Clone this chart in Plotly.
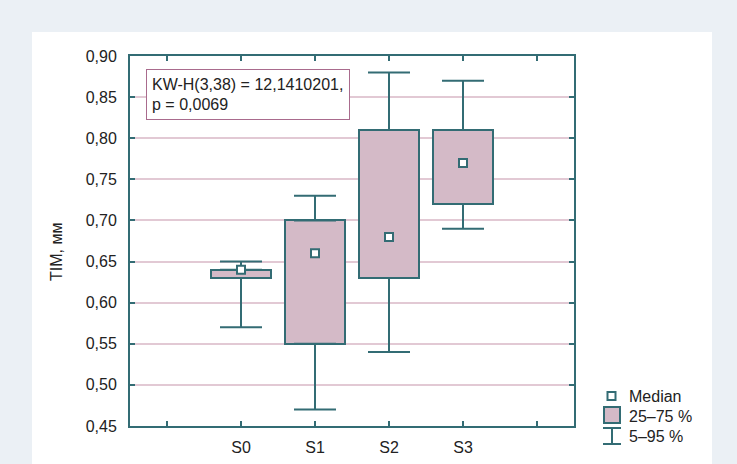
import plotly.graph_objects as go

# ---- data ----
categories = ["S0", "S1", "S2", "S3"]
axis_slots = [" ", "S0", "S1", "S2", "S3", "  "]
p5 = [0.57, 0.47, 0.54, 0.69]
q1 = [0.63, 0.55, 0.63, 0.72]
median = [0.64, 0.66, 0.68, 0.77]
q3 = [0.64, 0.70, 0.81, 0.81]
p95 = [0.65, 0.73, 0.88, 0.87]
y_ticks = [0.45, 0.50, 0.55, 0.60, 0.65, 0.70, 0.75, 0.80, 0.85, 0.90]
stat_text = "KW-H(3,38) = 12,1410201,<br>p = 0,0069"
y_title = "TIM, мм"
legend_labels = ["Median", "25–75 %", "5–95 %"]

# ---- style ----
TEAL = "#336c74"
FILL = "#d4bac7"
GRID = "#e2c9d4"
BORDER = "#a96b8d"
OUTER = "#ebf0f5"
TXT = "#222222"
FONT = "Liberation Sans, Arial, sans-serif"

W, H = 737, 464
L, R, T, B = 130, 574, 56, 426


def px(x):
    return (x - L) / (R - L)


def py(y):
    return (B - y) / (B - T)


fig = go.Figure()

# boxes (25-75 %)
fig.add_trace(go.Bar(
    x=categories, base=q1, y=[b - a for a, b in zip(q1, q3)], width=0.8,
    marker=dict(color=FILL, line=dict(color=TEAL, width=2)),
    showlegend=False, hoverinfo="skip"))

# upper whiskers
fig.add_trace(go.Scatter(
    x=categories, y=q3, mode="markers", marker=dict(opacity=0, size=2),
    error_y=dict(type="data", symmetric=False,
                 array=[b - a for a, b in zip(q3, p95)], arrayminus=[0] * len(q3),
                 color=TEAL, thickness=2, width=21),
    showlegend=False, hoverinfo="skip"))

# lower whiskers
fig.add_trace(go.Scatter(
    x=categories, y=q1, mode="markers", marker=dict(opacity=0, size=2),
    error_y=dict(type="data", symmetric=False,
                 array=[0] * len(q1), arrayminus=[a - b for a, b in zip(q1, p5)],
                 color=TEAL, thickness=2, width=21),
    showlegend=False, hoverinfo="skip"))

# medians
fig.add_trace(go.Scatter(
    x=categories, y=median, mode="markers",
    marker=dict(symbol="square", size=8, color="white", line=dict(color=TEAL, width=2)),
    showlegend=False))

shapes = [
    # white panel
    dict(type="rect", xref="paper", yref="paper", layer="below",
         x0=px(32), x1=px(712), y0=py(470), y1=py(32),
         fillcolor="white", line=dict(width=0)),
    # legend: median square
    dict(type="rect", xref="paper", yref="paper",
         x0=px(607.5), x1=px(615.5), y0=py(400), y1=py(392),
         fillcolor="white", line=dict(color=TEAL, width=2)),
    # legend: box
    dict(type="rect", xref="paper", yref="paper",
         x0=px(604), x1=px(620), y0=py(423), y1=py(407),
         fillcolor=FILL, line=dict(color=TEAL, width=2)),
    # legend: whisker
    dict(type="line", xref="paper", yref="paper",
         x0=px(612), x1=px(612), y0=py(444), y1=py(428), line=dict(color=TEAL, width=2)),
    dict(type="line", xref="paper", yref="paper",
         x0=px(603), x1=px(621), y0=py(428), y1=py(428), line=dict(color=TEAL, width=2)),
    dict(type="line", xref="paper", yref="paper",
         x0=px(603), x1=px(621), y0=py(444), y1=py(444), line=dict(color=TEAL, width=2)),
]

annotations = [
    dict(text=stat_text, xref="paper", yref="paper", x=px(146), y=py(69),
         xanchor="left", yanchor="top", align="left", showarrow=False,
         width=192, height=39,
         font=dict(family=FONT, size=16, color=TXT),
         bordercolor=BORDER, borderwidth=1, borderpad=5, bgcolor="white"),
    dict(text=y_title, xref="paper", yref="paper", x=px(57), y=py(252),
         xanchor="center", yanchor="middle", textangle=-90, showarrow=False,
         font=dict(family=FONT, size=16, color=TXT)),
]
for lbl, yy in zip(legend_labels, [396, 416, 437]):
    annotations.append(dict(text=lbl, xref="paper", yref="paper", x=px(627), y=py(yy),
                            xanchor="left", yanchor="middle", showarrow=False,
                            font=dict(family=FONT, size=16, color=TXT)))

fig.update_layout(
    width=W, height=H,
    margin=dict(l=L, r=W - R, t=T, b=H - B, pad=0, autoexpand=False),
    paper_bgcolor=OUTER, plot_bgcolor="white",
    separators=", ",
    font=dict(family=FONT, size=16, color=TXT),
    shapes=shapes, annotations=annotations,
    bargap=0,
    xaxis=dict(type="category", categoryorder="array", categoryarray=axis_slots,
               tickmode="array", tickvals=axis_slots, ticktext=axis_slots,
               range=[-0.5, 5.5], showgrid=False, zeroline=False, automargin=False,
               showline=True, mirror="ticks", linecolor=TEAL, linewidth=2,
               ticks="inside", ticklen=5, tickwidth=2, tickcolor=TEAL,
               ticklabelstandoff=6, tickfont=dict(size=16, color=TXT)),
    yaxis=dict(range=[0.45, 0.90], tickvals=y_ticks, tickformat=".2f",
               showgrid=True, gridcolor=GRID, gridwidth=1.5, zeroline=False,
               automargin=False,
               showline=True, mirror="ticks", linecolor=TEAL, linewidth=2,
               ticks="inside", ticklen=5, tickwidth=2, tickcolor=TEAL,
               ticklabelstandoff=8, tickfont=dict(size=16, color=TXT)),
)

fig.write_html("out.html", config={"displayModeBar": False},
               post_script="document.body.style.margin='0';")
